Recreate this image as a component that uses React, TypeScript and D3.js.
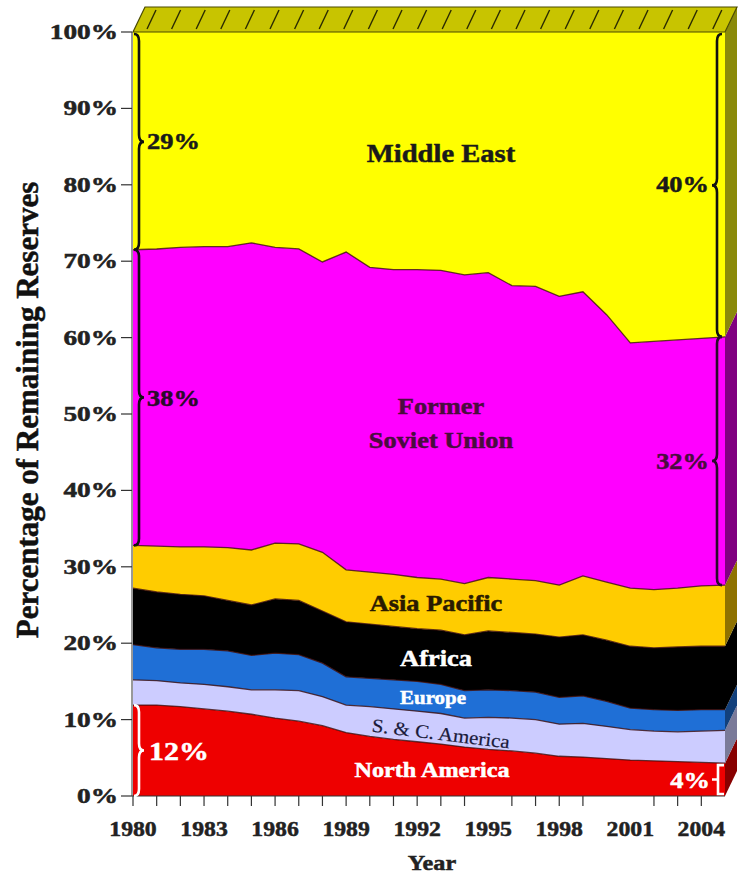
import React from "react";
import * as d3 from "d3";

// ---- data (share of remaining reserves, %) ----
const years = [1980, 1981, 1982, 1983, 1984, 1985, 1986, 1987, 1988, 1989, 1990, 1991, 1992, 1993, 1994, 1995, 1996, 1997, 1998, 1999, 2000, 2001, 2002, 2003, 2004, 2005];
const northAmerica = [11.9, 11.9, 11.7, 11.4, 11.1, 10.7, 10.2, 9.8, 9.2, 8.3, 7.8, 7.4, 7.1, 6.8, 6.4, 6.1, 5.9, 5.6, 5.2, 5.1, 4.9, 4.7, 4.6, 4.5, 4.4, 4.3];
const scAmerica = [3.3, 3.2, 3.1, 3.2, 3.2, 3.2, 3.7, 4.0, 3.8, 3.6, 3.9, 4.0, 4.0, 4.0, 3.8, 4.2, 4.3, 4.4, 4.2, 4.4, 4.2, 4.0, 3.9, 3.9, 4.1, 4.3];
const europe = [4.6, 4.3, 4.4, 4.6, 4.7, 4.5, 4.8, 4.7, 4.4, 3.7, 3.7, 3.8, 3.9, 3.8, 3.6, 3.6, 3.6, 3.6, 3.5, 3.6, 3.3, 2.8, 2.8, 2.8, 2.8, 2.7];
const africa = [7.4, 7.3, 7.2, 7.0, 6.6, 6.6, 7.1, 7.1, 6.8, 7.2, 7.1, 7.0, 6.9, 7.1, 7.3, 7.7, 7.6, 7.6, 7.9, 8.0, 8.0, 8.1, 8.1, 8.3, 8.3, 8.3];
const asiaPacific = [5.6, 6.0, 6.2, 6.4, 6.9, 7.2, 7.3, 7.4, 7.7, 6.8, 6.8, 6.8, 6.7, 6.7, 6.7, 7.0, 7.0, 7.0, 6.8, 7.7, 7.6, 7.6, 7.6, 7.7, 7.9, 8.0];
const formerSoviet = [38.7, 38.9, 39.2, 39.3, 39.4, 40.2, 38.7, 38.6, 38.0, 41.6, 39.9, 39.9, 40.3, 40.4, 40.4, 39.9, 38.4, 38.5, 37.8, 37.2, 35.0, 32.1, 32.5, 32.5, 32.4, 32.5];
const middleEast = [28.5, 28.4, 28.2, 28.1, 28.1, 27.6, 28.2, 28.4, 30.1, 28.8, 30.8, 31.1, 31.1, 31.2, 31.8, 31.5, 33.2, 33.3, 34.6, 34.0, 37.0, 40.7, 40.5, 40.3, 40.1, 39.9];

const regionKeys = ["na", "sca", "eu", "af", "ap", "fsu", "me"];
const regionColors = ["#ee0000", "#ccccff", "#1f6fd6", "#000000", "#ffcc00", "#ff00ff", "#ffff00"];
const sideColors = ["#880000", "#7a7a99", "#12407c", "#000000", "#8f7200", "#800080", "#8a8a0a"];

const yTicks = [0, 10, 20, 30, 40, 50, 60, 70, 80, 90, 100];
const xTickLabels = [1980, 1983, 1986, 1989, 1992, 1995, 1998, 2001, 2004];
const xTickMarks = [1980, 1981, 1982, 1983, 1984, 1985, 1986, 1987, 1988, 1989, 1990, 1991, 1992, 1993, 1994, 1996, 1997, 1998, 1999, 2002, 2003, 2004];

const W = 739;
const H = 880;
const X0 = 133;
const X1 = 725;
const Y0 = 796;
const Y1 = 32;
const DX = 12;
const DY = -25;
const FONT = "'Liberation Serif', 'Times New Roman', serif";

type TProps = {
  x: number; y: number; fs: number; sx?: number; sy?: number; anchor?: string;
  fill?: string; weight?: string; rot?: number; heavy?: number; children: React.ReactNode;
};
function T({ x, y, fs, sx = 1.15, sy = 1, anchor = "middle", fill = "#1a1a1a", weight = "bold", rot = 0, heavy = 0.5, children }: TProps) {
  return (
    <text
      transform={`translate(${x},${y}) rotate(${rot}) scale(${sx},${sy})`}
      fontSize={fs}
      fontFamily={FONT}
      fontWeight={weight}
      textAnchor={anchor as any}
      fill={fill}
      stroke={heavy > 0 ? fill : "none"}
      strokeWidth={heavy}
    >
      {children}
    </text>
  );
}

function brace(x: number, yTop: number, yBot: number, dir: number, w = 10, r = 7) {
  const mid = (yTop + yBot) / 2;
  const xm = x + (dir * w) / 2;
  const xt = x + dir * w;
  return `M${x},${yTop} Q${xm},${yTop} ${xm},${yTop + r} L${xm},${mid - r} Q${xm},${mid} ${xt},${mid} Q${xm},${mid} ${xm},${mid + r} L${xm},${yBot - r} Q${xm},${yBot} ${x},${yBot}`;
}

export default function App() {
  const rows = years.map((yr, i) => ({
    year: yr,
    na: northAmerica[i],
    sca: scAmerica[i],
    eu: europe[i],
    af: africa[i],
    ap: asiaPacific[i],
    fsu: formerSoviet[i],
    me: middleEast[i],
  }));
  const series = d3.stack<any>().keys(regionKeys)(rows);

  const x = d3.scaleLinear().domain([1980, 2005]).range([X0, X1]);
  const y = d3.scaleLinear().domain([0, 100]).range([Y0, Y1]);

  const area = d3
    .area<any>()
    .x((d) => x(d.data.year))
    .y0((d) => y(d[0]))
    .y1((d) => y(d[1]));
  const topLine = d3
    .line<any>()
    .x((d) => x(d.data.year))
    .y((d) => y(d[1]));

  const last = years.length - 1;
  const hatch = d3.range(X0 + 14, X1, 24.6);

  // bracket endpoints from data
  const meBot0 = y(series[5][0][1]);
  const fsuBot0 = y(series[4][0][1]);
  const naTop0 = y(series[0][0][1]);
  const meBotN = y(series[5][last][1]);
  const fsuBotN = y(series[4][last][1]);
  const naTopN = y(series[0][last][1]);

  return (
    <svg width={W} height={H} style={{ position: "absolute", left: 0, top: 0, background: "#fff" }}>
      {/* areas */}
      {series.map((s, i) => (
        <path key={s.key} d={area(s) || ""} fill={regionColors[i]} />
      ))}
      {series.slice(0, 6).map((s) => (
        <path key={"l" + s.key} d={topLine(s) || ""} fill="none" stroke="#3a0a0a" strokeWidth={1.3} strokeOpacity={0.8} />
      ))}

      {/* 3D side face */}
      {series.map((s, i) => {
        const yt = y(s[last][1]);
        const yb = y(s[last][0]);
        return (
          <polygon
            key={"side" + s.key}
            points={`${X1},${yt} ${X1 + DX},${yt + DY} ${X1 + DX},${yb + DY} ${X1},${yb}`}
            fill={sideColors[i]}
          />
        );
      })}
      {/* 3D top face */}
      <polygon
        points={`${X0},${Y1} ${X1},${Y1} ${X1 + DX},${Y1 + DY} ${X0 + DX},${Y1 + DY}`}
        fill="#c8c400"
        stroke="#4a4a00"
        strokeWidth={1.2}
      />
      {hatch.map((hx) => (
        <line key={"h" + hx} x1={hx} y1={Y1 - 3} x2={hx + DX * 0.75} y2={Y1 + DY + 3} stroke="#2a2a00" strokeWidth={1.4} />
      ))}

      {/* axes */}
      <line x1={X0 - 1} x2={X0 - 1} y1={Y1} y2={Y0} stroke="#333" strokeWidth={1} />
      <line x1={X0 - 1} x2={X1} y1={Y0} y2={Y0} stroke="#333" strokeWidth={1} />
      {yTicks.map((t) => (
        <g key={"yt" + t}>
          <line x1={X0 - 12} x2={X0 - 1} y1={y(t)} y2={y(t)} stroke="#333" strokeWidth={1.2} />
          <T x={X0 - 15} y={y(t) + 7} fs={21} sx={1.3} anchor="end" fill="#222">
            {t + "%"}
          </T>
        </g>
      ))}
      {xTickMarks.map((t) => (
        <line key={"xt" + t} x1={x(t)} x2={x(t)} y1={Y0} y2={Y0 + 10} stroke="#333" strokeWidth={1.2} />
      ))}
      {xTickLabels.map((t) => (
        <T key={"xl" + t} x={x(t)} y={Y0 + 40} fs={22} sx={1.08} fill="#222">
          {String(t)}
        </T>
      ))}
      <T x={432} y={870} fs={22} sx={1.1} fill="#222">Year</T>
      <T x={38} y={410} fs={31} sx={1} rot={-90} fill="#111">Percentage of Remaining Reserves</T>

      {/* area labels */}
      <T x={441} y={162} fs={26} sx={1.1}>Middle East</T>
      <T x={441} y={414} fs={24} sx={1.1} fill="#4a0c3e">Former</T>
      <T x={441} y={448} fs={24} sx={1.1} fill="#4a0c3e">Soviet Union</T>
      <T x={436} y={611} fs={24} sx={1.1} fill="#2a1a00">Asia Pacific</T>
      <T x={436} y={666} fs={24} sx={1.1} fill="#ffffff">Africa</T>
      <T x={433} y={704} fs={19} sx={1.1} fill="#ffffff">Europe</T>
      <T x={440} y={740} fs={19} sx={1.1} rot={7} weight="normal" heavy={0.2} fill="#1a1a3a">S. &amp; C. America</T>
      <T x={432} y={777} fs={22} sx={1.1} fill="#ffffff">North America</T>

      {/* left braces */}
      <path d={brace(X0 + 1, y(100) + 2, meBot0, 1)} fill="none" stroke="#111" strokeWidth={2.6} />
      <T x={X0 + 14} y={(y(100) + meBot0) / 2 + 8} fs={23} sx={1.15} anchor="start">29%</T>
      <path d={brace(X0 + 1, meBot0, fsuBot0, 1)} fill="none" stroke="#111" strokeWidth={2.6} />
      <T x={X0 + 14} y={(meBot0 + fsuBot0) / 2 + 8} fs={23} sx={1.15} anchor="start" fill="#2a0a2a">38%</T>
      <path d={brace(X0 + 1, naTop0, Y0, 1)} fill="none" stroke="#fff" strokeWidth={2.6} />
      <T x={X0 + 16} y={(naTop0 + Y0) / 2 + 9} fs={26} sx={1.15} anchor="start" fill="#ffffff">12%</T>

      {/* right braces */}
      <path d={brace(X1 - 3, y(100) + 2, meBotN, -1)} fill="none" stroke="#111" strokeWidth={2.6} />
      <T x={X1 - 16} y={(y(100) + meBotN) / 2 + 8} fs={23} sx={1.15} anchor="end">40%</T>
      <path d={brace(X1 - 3, meBotN, fsuBotN, -1)} fill="none" stroke="#2a0a2a" strokeWidth={2.6} />
      <T x={X1 - 16} y={(meBotN + fsuBotN) / 2 + 8} fs={23} sx={1.15} anchor="end" fill="#4a0c3e">32%</T>
      <path
        d={`M${X1 - 1},${naTopN + 2} L${X1 - 7},${naTopN + 2} L${X1 - 7},${Y0 - 2} L${X1 - 1},${Y0 - 2} M${X1 - 7},${(naTopN + Y0) / 2} L${X1 - 13},${(naTopN + Y0) / 2}`}
        fill="none"
        stroke="#fff"
        strokeWidth={2.6}
      />
      <T x={X1 - 15} y={(naTopN + Y0) / 2 + 8} fs={23} sx={1.15} anchor="end" fill="#ffffff">4%</T>
    </svg>
  );
}
